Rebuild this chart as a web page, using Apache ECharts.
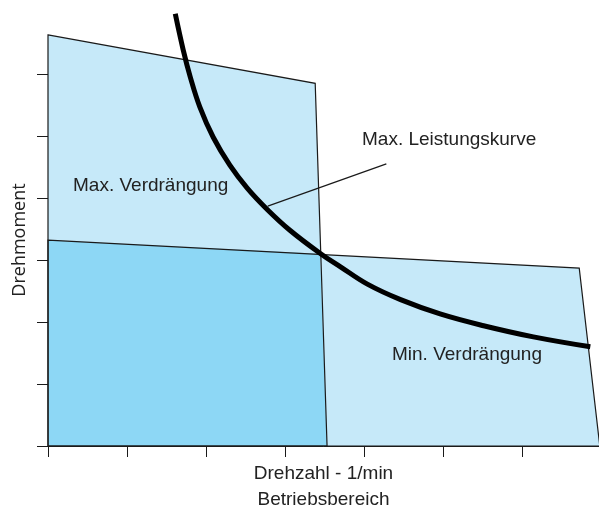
<!DOCTYPE html>
<html>
<head>
<meta charset="utf-8">
<script src="https://cdn.jsdelivr.net/npm/echarts@6/dist/echarts.min.js"></script>
<style>
  html, body { margin: 0; padding: 0; background: #fff; }
  #chart { width: 599px; height: 511px; }
</style>
</head>
<body>
<div id="chart"></div>
<script>
// Operating ranges of the hydraulic motor (speed vs. torque, relative units)
const maxDisplacement = [[0, 6.63], [3.38, 5.85], [3.53, 0], [0, 0]];
const minDisplacement = [[0, 3.32], [6.72, 2.87], [6.98, 0], [0, 0]];
const overlapRange    = [[0, 3.32], [3.44, 3.10], [3.53, 0], [0, 0]];

// Maximum power curve (constant power: torque falls with speed)
const powerCurve = [
  [1.61, 6.97], [1.71, 6.39], [1.80, 5.95], [1.92, 5.47], [2.09, 4.98],
  [2.30, 4.53], [2.52, 4.16], [2.77, 3.82], [3.06, 3.48], [3.44, 3.11],
  [3.70, 2.89], [4.04, 2.61], [4.46, 2.36], [4.96, 2.13], [5.51, 1.94],
  [6.14, 1.76], [6.86, 1.60]
];

// Leader line from the curve to its caption
const leader = [[2.78, 3.87], [4.28, 4.55]];

// Tick positions (unlabelled)
const xTicks = [0, 1, 2, 3, 4, 5, 6];
const yTicks = [0, 1, 2, 3, 4, 5, 6];

const LIGHT = '#c6e9f9';
const DARK = '#8dd7f5';
const INK = '#1a1a1a';

const fills = [
  { pts: maxDisplacement, fill: LIGHT },
  { pts: minDisplacement, fill: LIGHT },
  { pts: overlapRange, fill: DARK }
];
const outlines = [maxDisplacement, minDisplacement];

const chart = echarts.init(document.getElementById('chart'), null, { renderer: 'canvas' });

const textFont = 'Arial, "Liberation Sans", sans-serif';

chart.setOption({
  animation: false,
  backgroundColor: '#ffffff',
  grid: { left: 48, right: 0, top: 12, bottom: 65, outerBoundsMode: 'none' },
  xAxis: {
    type: 'value', min: 0, max: 6.97,
    axisLine: { show: true, lineStyle: { color: INK, width: 1 } },
    axisTick: { show: true, length: 11, customValues: xTicks, lineStyle: { color: INK, width: 1 } },
    axisLabel: { show: false },
    splitLine: { show: false },
    name: 'Drehzahl - 1/min\nBetriebsbereich',
    nameLocation: 'middle',
    nameGap: 15,
    nameTextStyle: { fontFamily: textFont, fontSize: 19, color: '#222', lineHeight: 26, verticalAlign: 'top' }
  },
  yAxis: {
    type: 'value', min: 0, max: 7,
    axisLine: { show: false },
    axisTick: { show: true, length: 11, customValues: yTicks, lineStyle: { color: INK, width: 1 } },
    axisLabel: { show: false },
    splitLine: { show: false }
  },
  graphic: [
    { type: 'text', x: 20, y: 240, rotation: Math.PI / 2, z: 100,
      style: { text: 'Drehmoment', font: '18px "Open Sans", sans-serif', fill: '#222', align: 'center', verticalAlign: 'middle' } },
    { type: 'text', x: 73, y: 186, z: 100,
      style: { text: 'Max. Verdrängung', font: '19px ' + textFont, fill: '#222', align: 'left', verticalAlign: 'middle' } },
    { type: 'text', x: 362, y: 140, z: 100,
      style: { text: 'Max. Leistungskurve', font: '19px ' + textFont, fill: '#222', align: 'left', verticalAlign: 'middle' } },
    { type: 'text', x: 392, y: 355, z: 100,
      style: { text: 'Min. Verdrängung', font: '19px ' + textFont, fill: '#222', align: 'left', verticalAlign: 'middle' } }
  ],
  series: [
    {
      type: 'custom',
      name: 'Bereiche',
      z: 1,
      silent: true,
      data: fills.map((f, i) => [i, 0]),
      renderItem: function (params, api) {
        const f = fills[params.dataIndex];
        return {
          type: 'polygon',
          shape: { points: f.pts.map(p => api.coord(p)) },
          style: { fill: f.fill, stroke: null }
        };
      }
    },
    {
      type: 'custom',
      name: 'Umrisse',
      z: 2,
      silent: true,
      data: outlines.map((o, i) => [i, 0]),
      renderItem: function (params, api) {
        const pts = outlines[params.dataIndex];
        return {
          type: 'polygon',
          shape: { points: pts.map(p => api.coord(p)) },
          style: { fill: 'none', stroke: INK, lineWidth: 1.2 }
        };
      }
    },
    {
      type: 'line',
      name: 'Hinweis',
      z: 3,
      data: leader,
      showSymbol: false,
      silent: true,
      lineStyle: { color: INK, width: 1.2 }
    },
    {
      type: 'line',
      name: 'Max. Leistungskurve',
      z: 4,
      data: powerCurve,
      smooth: 0.4,
      showSymbol: false,
      silent: true,
      clip: false,
      lineStyle: { color: '#000', width: 5, cap: 'butt' }
    }
  ]
});
</script>
</body>
</html>
